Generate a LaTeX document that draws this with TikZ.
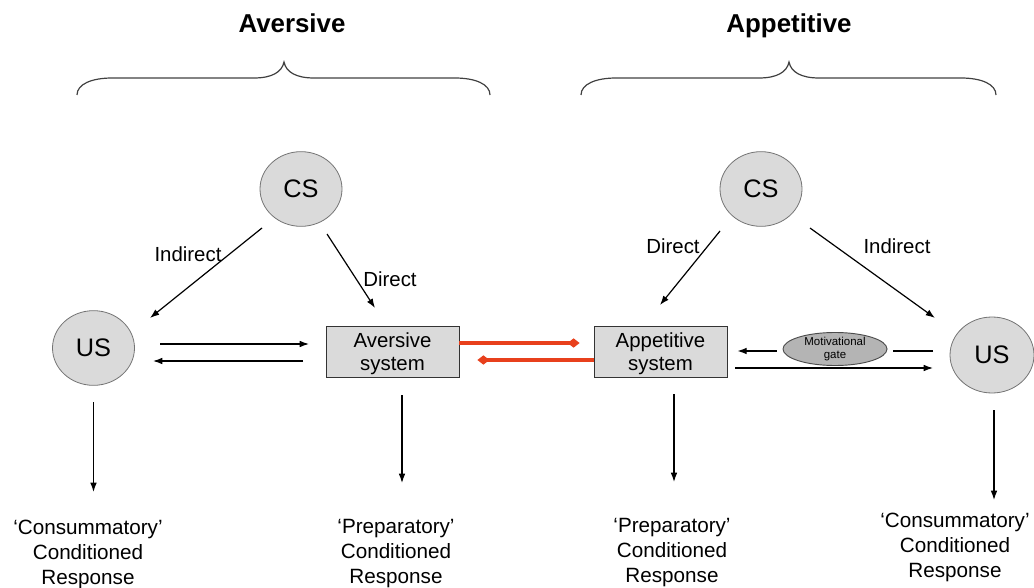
\documentclass[tikz,border=0pt]{standalone}
\usepackage{fontspec}
\setmainfont{Liberation Sans}
\usetikzlibrary{shapes.geometric,arrows.meta,calc}
\definecolor{redc}{HTML}{E8401C}
\definecolor{stimfill}{HTML}{DADADA}
\definecolor{gatefill}{HTML}{B4B4B4}
\begin{document}
\begin{tikzpicture}[x=0.75pt,y=-0.75pt,
  stim/.style={ellipse, draw=black!55, line width=0.6pt, fill=stimfill, minimum width=61.5pt, minimum height=56pt, inner sep=0pt, font=\fontsize{19}{21}\selectfont},
  sysbox/.style={rectangle, draw=black!80, line width=0.6pt, fill=stimfill, minimum width=99.75pt, minimum height=38.25pt, inner sep=0pt, align=center, text depth=0pt, font=\fontsize{15.3}{17.25}\selectfont},
  gatebox/.style={ellipse, draw=black!70, line width=0.7pt, fill=gatefill, minimum width=78pt, minimum height=24pt, inner sep=0pt, align=center, font=\fontsize{8.6}{9.5}\selectfont},
  lbl/.style={inner sep=0pt, font=\fontsize{15.3}{17.25}\selectfont},
  resp/.style={inner sep=0pt, align=center, font=\fontsize{15.5}{18.75}\selectfont},
  ttl/.style={inner sep=0pt, anchor=base, font=\fontsize{19.4}{22}\selectfont\bfseries},
  arr/.style={draw=black, line width=0.9pt, -{Latex[length=7pt,width=5pt]}},
  plain/.style={draw=black, line width=0.9pt},
  redl/.style={draw=redc, line width=2.4pt, -{Diamond[length=9pt,width=7pt]}},
  brace/.style={draw=black!75, line width=0.9pt}
]
\useasboundingbox (0,0) rectangle (1034,588);

% titles
\node[ttl] (tA) at (292,33) {Aversive};
\node[ttl] (tB) at (789,33) {Appetitive};

% braces
\draw[brace] (77,95) .. controls (77,84) and (92,78) .. (112,78) -- (254,78)
  .. controls (272,78) and (282,72) .. (284,62)
  .. controls (286,72) and (296,78) .. (314,78) -- (455,78)
  .. controls (475,78) and (490,84) .. (490,95);
\draw[brace] (581,95) .. controls (581,84) and (596,78) .. (616,78) -- (759,78)
  .. controls (777,78) and (787,72) .. (789,62)
  .. controls (791,72) and (801,78) .. (819,78) -- (961,78)
  .. controls (981,78) and (996,84) .. (996,95);

% nodes
\node[stim] (csA) at (301,189) {CS};
\node[stim] (usA) at (93.5,348) {US};
\node[sysbox] (avs) at (392.5,351.5) {Aversive\\system};
\node[sysbox] (aps) at (660.5,351.5) {Appetitive\\system};
\node[gatebox] (gate) at (835,349) {Motivational\\gate};
\node[stim] (csB) at (761,189) {CS};
\node[stim, minimum width=63pt, minimum height=57pt] (usB) at (992,355) {US};

% labels
\node[lbl] (lIndA) at (188,254) {Indirect};
\node[lbl] (lDirA) at (390,279) {Direct};
\node[lbl] (lDirB) at (673,246) {Direct};
\node[lbl] (lIndB) at (897,246) {Indirect};

% responses
\node[resp] (rA) at (88,554) {`Consummatory'\\Conditioned\\Response};
\node[resp] (rB) at (396,554) {`Preparatory'\\Conditioned\\Response};
\node[resp] (rC) at (672,553) {`Preparatory'\\Conditioned\\Response};
\node[resp] (rD) at (955,547) {`Consummatory'\\Conditioned\\Response};

% CS arrows
\draw[arr] ($(csA)+(-39,39)$) -- ($(usA)+(56.5,-30)$);
\draw[arr] ($(csA)+(26,45)$) -- ($(avs)+(-17.5,-43.5)$);
\draw[arr] ($(csB)+(-41,42)$) -- ($(aps)+(-0.5,-46.5)$);
\draw[arr] ($(csB)+(49,39)$) -- ($(usB)+(-57,-37)$);

% horizontal arrows left
\draw[arr] ($(usA)+(66.5,-4)$) -- ($(avs)+(-83.5,-7.5)$);
\draw[arr] ($(avs)+(-89.5,9.5)$) -- ($(usA)+(59.5,13)$);

% red links
\draw[redl] ($(avs.east)+(0,-8.5)$) -- ($(aps.west)+(-14,-8.5)$);
\draw[redl] ($(aps.west)+(0,8.5)$) -- ($(avs.east)+(18,8.5)$);

% right side horizontal
\draw[arr] ($(gate.west)+(-6,2)$) -- ($(aps.east)+(10,-0.5)$);
\draw[plain] ($(usB)+(-59,-4)$) -- ($(gate.east)+(6,2)$);
\draw[arr] ($(aps)+(74.5,16.5)$) -- ($(usB)+(-59,13)$);

% down arrows
\draw[arr] ($(usA)+(0,54)$) -- ($(usA)+(0,144)$);
\draw[arr] ($(avs)+(9.5,43.5)$) -- ($(avs)+(9.5,131.5)$);
\draw[arr] ($(aps)+(13.5,42.5)$) -- ($(aps)+(13.5,130.5)$);
\draw[arr] ($(usB)+(2,55)$) -- ($(usB)+(2,145)$);
\end{tikzpicture}
\end{document}
